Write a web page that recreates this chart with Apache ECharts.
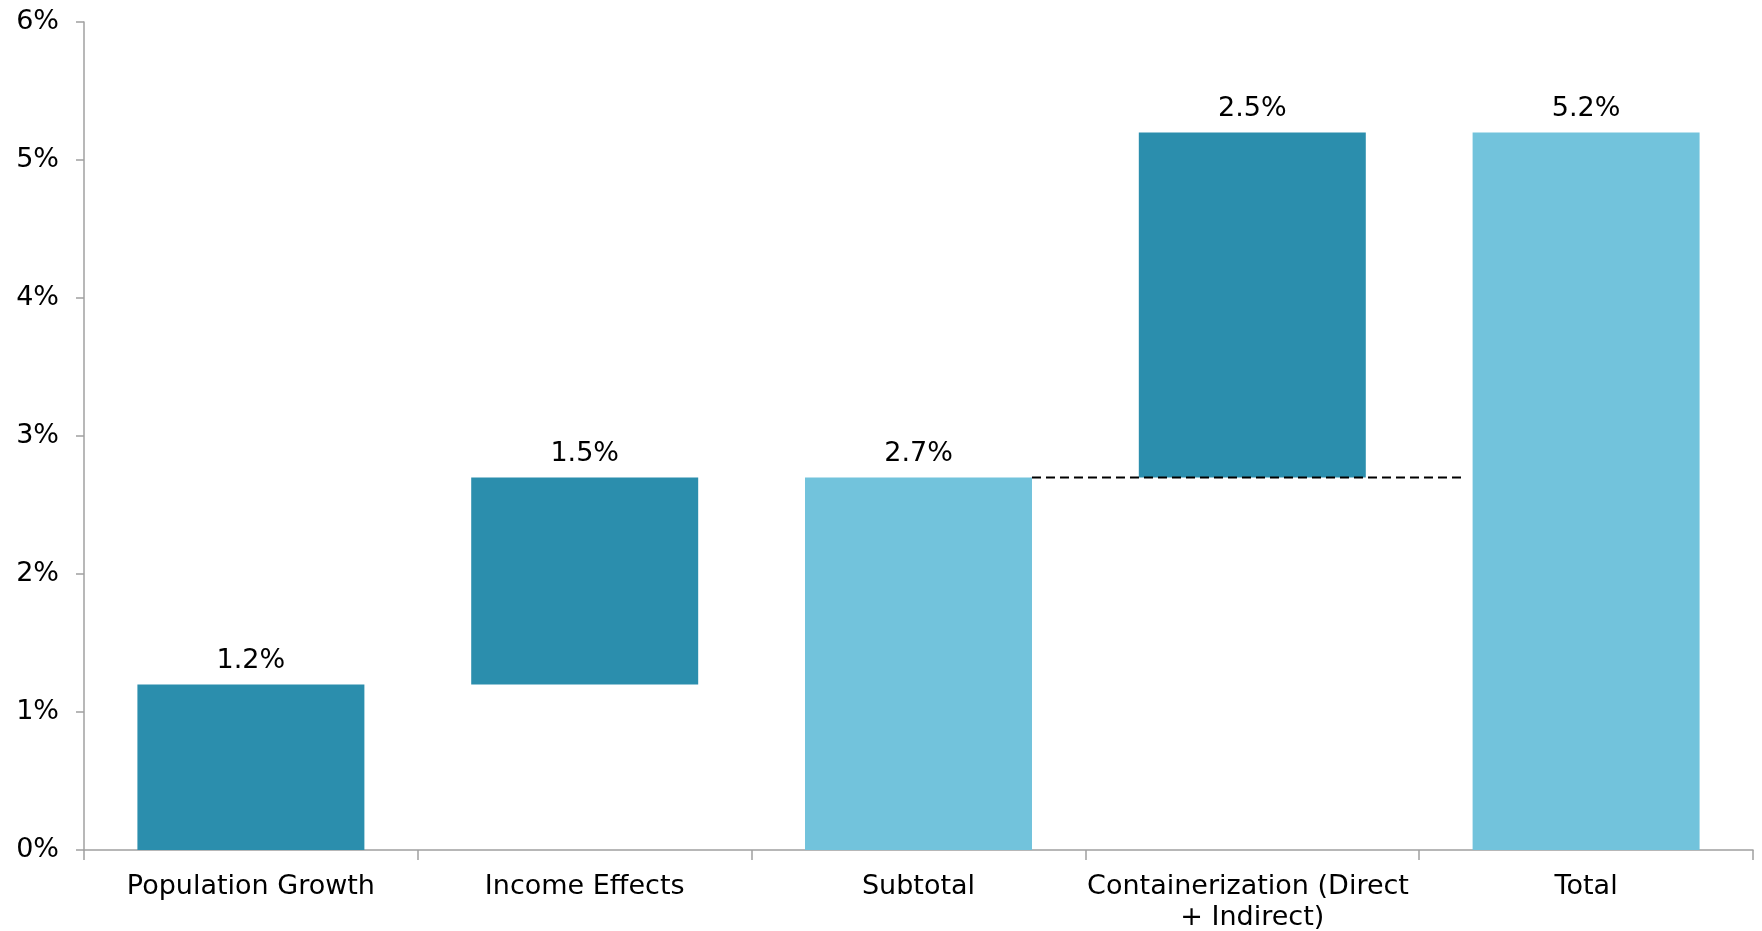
<!DOCTYPE html>
<html>
<head>
<meta charset="utf-8">
<script src="https://cdn.jsdelivr.net/npm/echarts@6/dist/echarts.min.js"></script>
<style>
html,body{margin:0;padding:0;background:#fff;}
#chart{width:1762px;height:931px;}
</style>
</head>
<body>
<div id="chart"></div>
<script>
// ---- data ----
const categories = ['Population Growth', 'Income Effects', 'Subtotal', 'Containerization (Direct + Indirect)', 'Total'];
const values = [1.2, 1.5, 2.7, 2.5, 5.2];
const kinds = ['delta', 'delta', 'total', 'delta', 'total'];
const yTicks = [0, 1, 2, 3, 4, 5, 6];

// ---- derived (waterfall bases) ----
const bases = [];
let running = 0;
values.forEach((v, i) => {
  if (kinds[i] === 'total') { bases.push(0); running = v; }
  else { bases.push(running); running += v; }
});

const DARK = '#2B8EAD';
const LIGHT = '#72C3DC';
const FONT = 'DejaVu Sans';
const FS = 27;
const barFrac = 0.68;

// connector: from Subtotal bar's right edge to just before Total bar
const fromIdx = 2, toIdx = 4;
const connY = values[fromIdx];
const connector = [
  [fromIdx + 0.5 + barFrac / 2, connY],
  [toIdx + 0.5 - barFrac / 2 - 0.03, connY]
];

const chart = echarts.init(document.getElementById('chart'));
chart.setOption({
  animation: false,
  grid: { left: 84, right: 9, top: 22, bottom: 81, containLabel: false, outerBoundsMode: 'none' },
  xAxis: [{
    type: 'category',
    data: categories,
    axisLine: { lineStyle: { color: '#A0A0A0', width: 1.5 } },
    axisTick: { show: true, length: 10, lineStyle: { color: '#A0A0A0', width: 1.5 } },
    axisLabel: {
      interval: 0, color: '#000', fontFamily: FONT, fontSize: FS,
      margin: 21, width: 332, overflow: 'break', lineHeight: 31
    }
  }, {
    type: 'value', min: 0, max: categories.length, show: false
  }],
  yAxis: {
    type: 'value', min: yTicks[0], max: yTicks[yTicks.length - 1], interval: 1,
    splitLine: { show: false },
    axisLine: { show: true, lineStyle: { color: '#A0A0A0', width: 1.5 } },
    axisTick: { show: true, length: 8, lineStyle: { color: '#A0A0A0', width: 1.5 } },
    axisLabel: { formatter: '{value}%', color: '#000', fontFamily: FONT, fontSize: FS, margin: 25 }
  },
  series: [{
    type: 'bar', stack: 'w', barCategoryGap: '32%',
    data: bases,
    itemStyle: { color: 'transparent' },
    silent: true
  }, {
    type: 'bar', stack: 'w',
    data: values.map((v, i) => ({ value: v, itemStyle: { color: kinds[i] === 'total' ? LIGHT : DARK } })),
    label: {
      show: true, position: 'top', distance: 10,
      formatter: p => p.value.toFixed(1) + '%',
      color: '#000', fontFamily: FONT, fontSize: FS
    }
  }, {
    type: 'line', xAxisIndex: 1, data: connector, symbol: 'none',
    lineStyle: { color: '#000', width: 2, type: [9, 5] }, z: 5
  }]
});
</script>
</body>
</html>
